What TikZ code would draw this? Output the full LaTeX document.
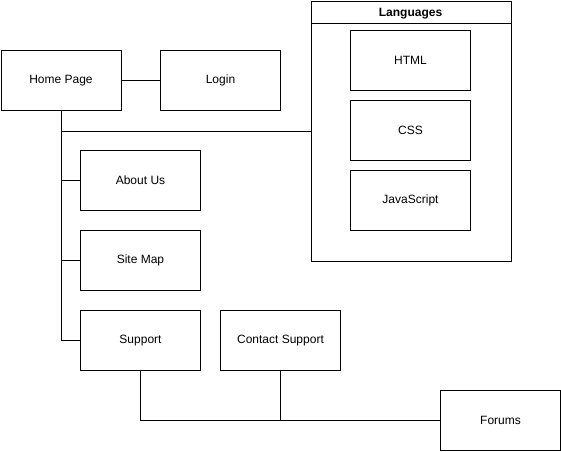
\documentclass[tikz,border=0pt]{standalone}
\usepackage{fontspec}
\setmainfont{Liberation Sans}
\begin{document}
\begin{tikzpicture}[x=1pt,y=-1pt,
  box/.style={draw=black,line width=1pt,minimum width=120pt,minimum height=60pt,inner sep=0pt,anchor=north west,font=\fontsize{12}{14}\selectfont},
  link/.style={draw=black,line width=1pt}]
\useasboundingbox (0,0) rectangle (561,451);
\node[box] (home) at (0.5,50) {Home Page};
\node[box] (login) at (160,50) {Login};
\node[box,minimum width=200pt,minimum height=260pt] (lang) at (310.5,0.5) {};
\coordinate (hdrL) at (310.5,23);
\coordinate (hdrR) at (510.5,23);
\draw[link] (hdrL) -- (hdrR);
\node[font=\bfseries\fontsize{12}{14}\selectfont] (langtitle) at (410.5,13.5) {Languages};
\node[box] (html) at (350,30) {HTML};
\node[box] (css) at (350,100) {CSS};
\node[box] (js) at (350,170) {JavaScript};
\node[box] (about) at (80,150) {About Us};
\node[box] (sitemap) at (80,230) {Site Map};
\node[box] (support) at (80,310) {Support};
\node[box] (contact) at (220,310) {Contact Support};
\node[box] (forums) at (440,390) {Forums};
\draw[link] (home) -- (login);
\draw[link] (home.south) |- (support.west);
\draw[link] (home.south) |- (about.west);
\draw[link] (home.south) |- (sitemap.west);
\draw[link] (home.south) |- (lang.west);
\draw[link] (support.south) |- (forums.west);
\draw[link] (contact.south) -- (contact.south |- forums.west);
\end{tikzpicture}
\end{document}
